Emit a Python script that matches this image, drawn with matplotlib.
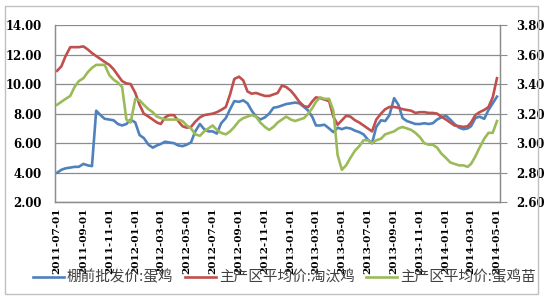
import pandas as pd
import numpy as np
import matplotlib
matplotlib.use("Agg")
from matplotlib import pyplot as plt
import matplotlib.dates as mdates
from matplotlib.patches import Rectangle
from matplotlib.ticker import FormatStrFormatter

# dekad dates: 1st, 11th, 21st of each month
months = pd.date_range("2011-07-01", "2014-04-01", freq="MS")
dates = [m + pd.Timedelta(days=d) for m in months for d in (0, 10, 20)]
dates.append(pd.Timestamp("2014-05-01"))

# 棚前批发价:蛋鸡 (left axis)
egg_price = [4.0, 4.2, 4.3, 4.35, 4.4, 4.4, 4.6, 4.5, 4.45, 8.2,
             7.9, 7.65, 7.6, 7.55, 7.3, 7.2, 7.3, 7.6, 7.4, 6.55,
             6.35, 5.9, 5.7, 5.85, 5.95, 6.1, 6.05, 6.0, 5.85, 5.8,
             5.9, 6.05, 6.8, 7.3, 6.95, 6.8, 6.8, 6.65, 7.35, 7.7,
             8.3, 8.85, 8.8, 8.9, 8.7, 8.2, 7.8, 7.6, 7.75, 8.0,
             8.4, 8.45, 8.55, 8.65, 8.7, 8.75, 8.7, 8.45, 8.2, 7.75,
             7.2, 7.2, 7.25, 7.0, 6.75, 7.05, 6.95, 7.05, 7.0, 6.85,
             6.75, 6.6, 6.25, 6.0, 7.1, 7.55, 7.5, 7.9, 9.05, 8.6,
             7.7, 7.5, 7.4, 7.3, 7.3, 7.35, 7.3, 7.35, 7.6, 7.75,
             7.85, 7.6, 7.3, 7.05, 6.95, 7.0, 7.15, 7.7, 7.8, 7.65,
             8.25, 8.7, 9.15]

# 主产区平均价:淘汰鸡 (left axis)
cull_price = [10.9, 11.2, 11.9, 12.5, 12.5, 12.5, 12.55, 12.35, 12.1, 11.9,
              11.7, 11.5, 11.3, 11.0, 10.6, 10.2, 10.05, 10.0, 9.4, 8.6,
              8.0, 7.8, 7.6, 7.4, 7.3, 7.75, 7.9, 7.9, 7.5, 7.15,
              7.05, 7.1, 7.45, 7.75, 7.9, 7.95, 8.0, 8.1, 8.25, 8.45,
              9.3, 10.35, 10.5, 10.25, 9.5, 9.35, 9.4, 9.3, 9.2, 9.2,
              9.3, 9.4, 9.9, 9.8, 9.55, 9.2, 8.8, 8.5, 8.45, 8.85,
              9.1, 9.05, 8.95, 8.85, 7.8, 7.25, 7.55, 7.85, 7.8, 7.55,
              7.4, 7.2, 7.0, 6.8, 7.6, 8.0, 8.3, 8.45, 8.45, 8.4,
              8.3, 8.25, 8.2, 8.05, 8.1, 8.1, 8.05, 8.05, 8.0, 7.8,
              7.6, 7.4, 7.2, 7.15, 7.1, 7.15, 7.4, 7.9, 8.1, 8.25,
              8.45, 9.1, 10.4]

# 主产区平均价:蛋鸡苗 (right axis)
chick_price = [3.26, 3.28, 3.30, 3.32, 3.38, 3.42, 3.44, 3.48, 3.51, 3.53,
               3.53, 3.53, 3.46, 3.43, 3.41, 3.38, 3.16, 3.14, 3.30, 3.29,
               3.26, 3.23, 3.21, 3.18, 3.17, 3.16, 3.16, 3.16, 3.16, 3.15,
               3.12, 3.10, 3.06, 3.05, 3.08, 3.10, 3.12, 3.09, 3.07, 3.06,
               3.08, 3.11, 3.15, 3.17, 3.18, 3.19, 3.18, 3.14, 3.11, 3.09,
               3.11, 3.14, 3.16, 3.18, 3.16, 3.15, 3.16, 3.17, 3.20, 3.24,
               3.28, 3.31, 3.30, 3.30, 3.22, 2.92, 2.82, 2.85, 2.90, 2.95,
               2.98, 3.02, 3.02, 3.00, 3.02, 3.03, 3.06, 3.07, 3.08, 3.10,
               3.11, 3.10, 3.09, 3.07, 3.04, 3.00, 2.99, 2.99, 2.97, 2.93,
               2.90, 2.87, 2.86, 2.85, 2.85, 2.84, 2.86, 2.91, 2.97, 3.03,
               3.07, 3.07, 3.15]

labels = ["棚前批发价:蛋鸡", "主产区平均价:淘汰鸡", "主产区平均价:蛋鸡苗"]
colors = ["#4F81BD", "#C0504D", "#9BBB59"]

fig = plt.figure(figsize=(5.47, 2.99), dpi=100)
ax = fig.add_axes([0.1005, 0.3234, 0.8135, 0.593])
ax2 = ax.twinx()

l1, = ax.plot(dates, egg_price, color=colors[0], lw=1.9)
l2, = ax.plot(dates, cull_price, color=colors[1], lw=1.9)
l3, = ax2.plot(dates, chick_price, color=colors[2], lw=1.9)

ax.set_ylim(2, 14)
ax.set_yticks(np.arange(2, 14.1, 2))
ax2.set_ylim(2.6, 3.8)
ax2.set_yticks(np.arange(2.6, 3.81, 0.2))
ax.yaxis.set_major_formatter(FormatStrFormatter("%.2f"))
ax2.yaxis.set_major_formatter(FormatStrFormatter("%.2f"))

ax.set_xlim(pd.Timestamp("2011-06-26"), pd.Timestamp("2014-05-08"))
ax.xaxis.set_major_locator(mdates.MonthLocator(bymonth=[1, 3, 5, 7, 9, 11]))
ax.xaxis.set_major_formatter(mdates.DateFormatter("%Y-%m-%d"))

ax.grid(axis="y", color="#8c8c8c", lw=0.9)
ax.set_axisbelow(True)
for a in (ax, ax2):
    for s in a.spines.values():
        s.set_color("#8c8c8c")
        s.set_linewidth(0.9)
    a.spines["top"].set_visible(False)

tick_font = dict(family="DejaVu Serif", weight="bold")
ax.tick_params(axis="y", length=0, pad=9.5, labelsize=8.4)
ax.tick_params(axis="x", length=0, pad=4, labelsize=7.5, rotation=90)
ax2.tick_params(axis="y", length=5, pad=7, color="#8c8c8c", labelsize=8.4)
for t in ax.get_yticklabels() + ax.get_xticklabels() + ax2.get_yticklabels():
    t.set_fontfamily(tick_font["family"])
    t.set_fontweight(tick_font["weight"])

fig.legend([l1, l2, l3], labels, loc="center", bbox_to_anchor=(0.52, 0.072),
           ncol=3, frameon=False, handlelength=2.1, handletextpad=0.2,
           columnspacing=0.8, labelcolor="#404040",
           prop={"family": ["Noto Sans CJK SC", "DejaVu Sans"], "size": 10.5})

fig.patches.append(Rectangle((5 / 547, 1 - 294 / 299), 533 / 547, 288 / 299,
                             transform=fig.transFigure, fill=False,
                             edgecolor="#c0c0c0", lw=1))

fig.savefig("out.png", dpi=100)
